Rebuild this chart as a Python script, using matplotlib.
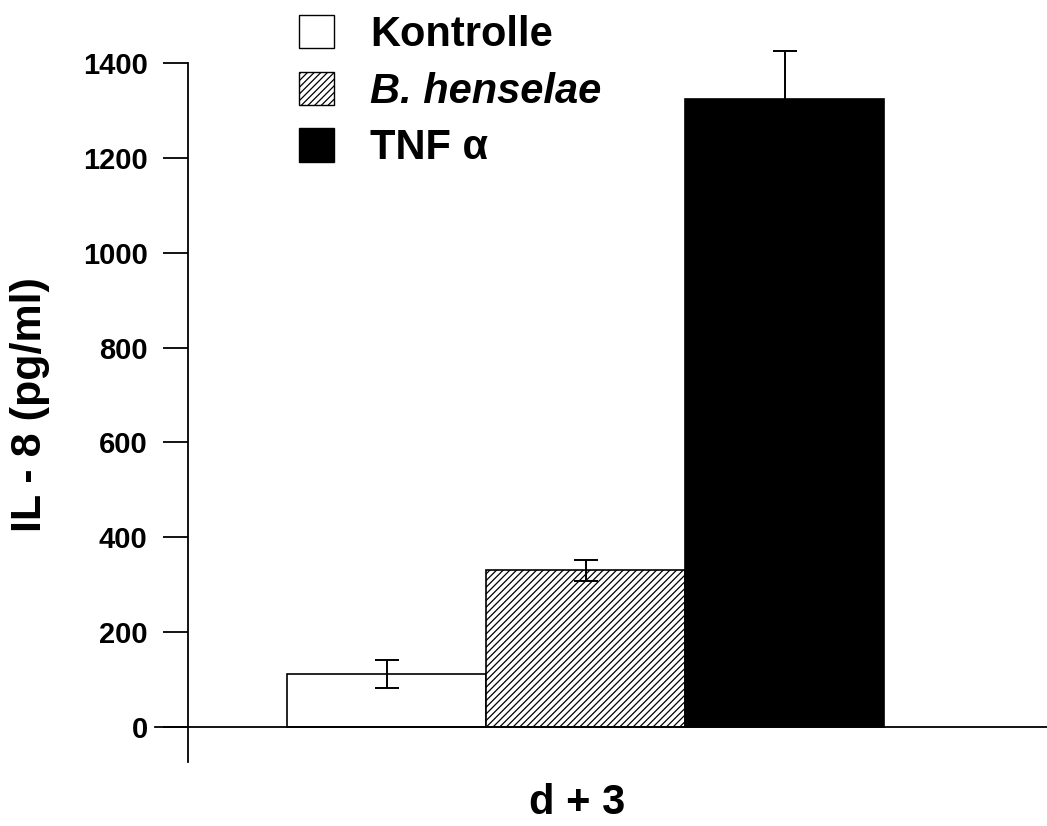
import matplotlib
matplotlib.use("Agg")
import matplotlib.pyplot as plt
from matplotlib.patches import Patch

# IL-8 at day 3
groups = ["Kontrolle", "B. henselae", "TNF α"]
values = [112, 330, 1325]
errors = [29, 23, 100]
yticks = [0, 200, 400, 600, 800, 1000, 1200, 1400]

plt.rcParams["font.family"] = ["Liberation Sans", "DejaVu Sans"]
plt.rcParams["font.weight"] = "bold"
plt.rcParams["hatch.linewidth"] = 0.9

W, H = 1047, 826
fig = plt.figure(figsize=(W / 100, H / 100), dpi=100)
ax = fig.add_axes([188 / W, 64 / H, (W - 188) / W, 699 / H])

faces = ["white", "white", "black"]
hatches = ["", "/////", ""]
x = list(range(len(groups)))
for i in x:
    ax.bar(i, values[i], width=1.0, color=faces[i], edgecolor="black",
           linewidth=1.2, hatch=hatches[i], zorder=2)
eb = ax.errorbar(x, values, yerr=errors, fmt="none", ecolor="black",
                 elinewidth=1.4, capsize=8.5, capthick=1.4, zorder=3)
for art in eb.lines[1] + eb.lines[2]:
    art.set_clip_on(False)

# zero line, running a bit left of the axis like the original
ax.axhline(0, xmin=(155 - 188) / (W - 188), xmax=1, color="black",
           linewidth=1.3, clip_on=False, zorder=4)

ax.set_xlim(-1.0, 3.32)
ax.set_ylim(-74, 1400)
ax.set_yticks(yticks)
ax.set_yticklabels([str(t) for t in yticks], fontsize=21, fontweight="bold")
ax.set_xticks([])
ax.tick_params(axis="y", length=18, width=1.3, pad=11)
for s in ["top", "right", "bottom"]:
    ax.spines[s].set_visible(False)
ax.spines["left"].set_linewidth(1.3)

ax.set_ylabel("IL - 8 (pg/ml)", fontsize=31, fontweight="bold")
ax.yaxis.set_label_coords(-0.184, 0.511)
ax.yaxis.label.set_verticalalignment("center")
ax.set_xlabel("d + 3", fontsize=30, fontweight="bold")
ax.xaxis.set_label_coords(0.453, -0.058)
ax.xaxis.label.set_verticalalignment("center")

handles = [Patch(facecolor=faces[i], edgecolor="black", hatch=hatches[i],
                 linewidth=1.0) for i in x]
leg = fig.legend(handles, groups, loc="upper left",
                 bbox_to_anchor=(299 / W, 1 - 15 / H), frameon=False,
                 fontsize=30, handlelength=0.85, handleheight=0.85,
                 handletextpad=0.85, labelspacing=0.4, borderpad=0,
                 borderaxespad=0)
for t in leg.get_texts():
    t.set_fontweight("bold")
leg.get_texts()[1].set_fontstyle("italic")

fig.savefig("out.png", dpi=100)
